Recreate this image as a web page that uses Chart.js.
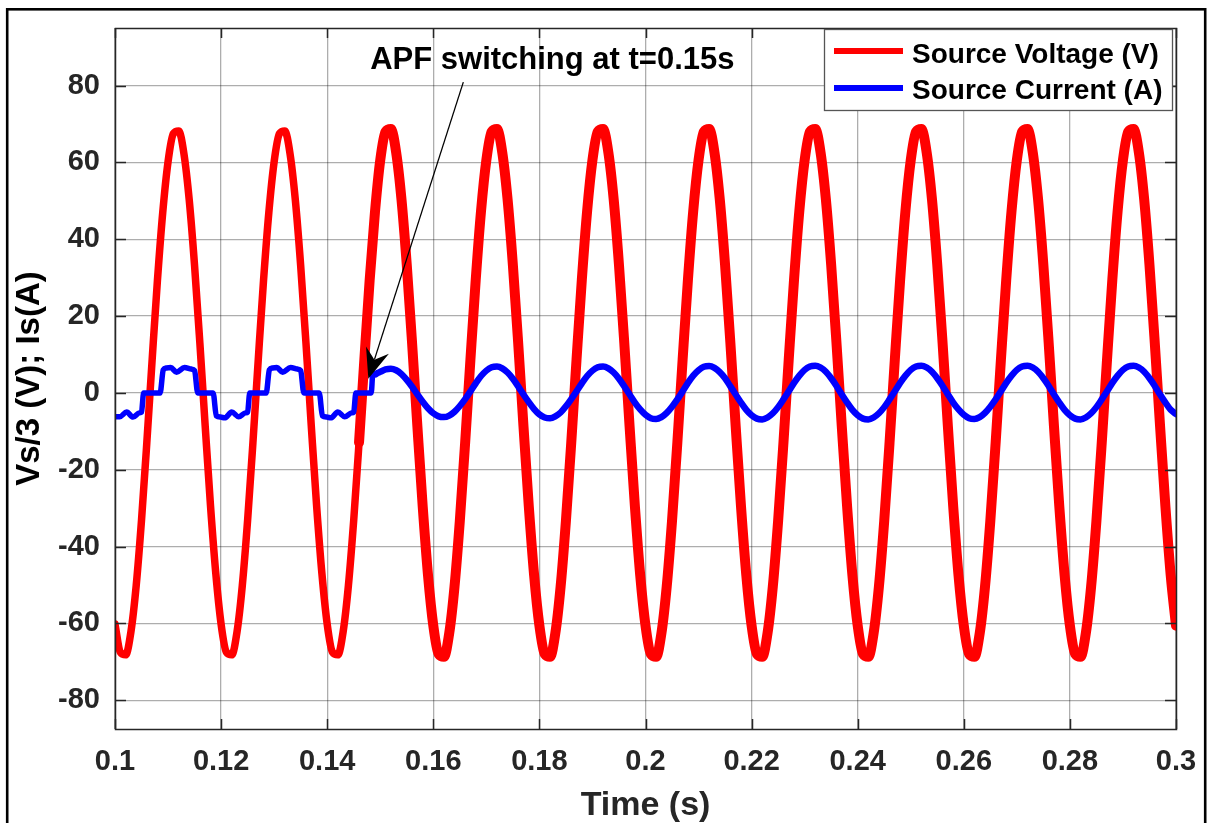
<!DOCTYPE html>
<html>
<head>
<meta charset="utf-8">
<script src="https://cdn.jsdelivr.net/npm/chart.js@4.4.1/dist/chart.umd.min.js"></script>
<style>
  html, body { margin: 0; padding: 0; background: #ffffff; }
  canvas { display: block; }
</style>
</head>
<body>
<canvas id="c" width="1207" height="823"></canvas>
<script>
// ---------------- DATA ----------------
const sampleTime = [
  0.100,0.101,0.102,0.103,0.104,0.105,0.106,0.107,0.108,0.109,
  0.110,0.111,0.112,0.113,0.114,0.115,0.116,0.117,0.118,0.119,
  0.120,0.121,0.122,0.123,0.124,0.125,0.126,0.127,0.128,0.129,
  0.130,0.131,0.132,0.133,0.134,0.135,0.136,0.137,0.138,0.139,
  0.140,0.141,0.142,0.143,0.144,0.145,0.146,0.147,0.148,0.149,
  0.150,0.151,0.152,0.153,0.154,0.155,0.156,0.157,0.158,0.159,
  0.160,0.161,0.162,0.163,0.164,0.165,0.166,0.167,0.168,0.169,
  0.170,0.171,0.172,0.173,0.174,0.175,0.176,0.177,0.178,0.179,
  0.180,0.181,0.182,0.183,0.184,0.185,0.186,0.187,0.188,0.189,
  0.190,0.191,0.192,0.193,0.194,0.195,0.196,0.197,0.198,0.199,
  0.200,0.201,0.202,0.203,0.204,0.205,0.206,0.207,0.208,0.209,
  0.210,0.211,0.212,0.213,0.214,0.215,0.216,0.217,0.218,0.219,
  0.220,0.221,0.222,0.223,0.224,0.225,0.226,0.227,0.228,0.229,
  0.230,0.231,0.232,0.233,0.234,0.235,0.236,0.237,0.238,0.239,
  0.240,0.241,0.242,0.243,0.244,0.245,0.246,0.247,0.248,0.249,
  0.250,0.251,0.252,0.253,0.254,0.255,0.256,0.257,0.258,0.259,
  0.260,0.261,0.262,0.263,0.264,0.265,0.266,0.267,0.268,0.269,
  0.270,0.271,0.272,0.273,0.274,0.275,0.276,0.277,0.278,0.279,
  0.280,0.281,0.282,0.283,0.284,0.285,0.286,0.287,0.288,0.289,
  0.290,0.291,0.292,0.293,0.294,0.295,0.296,0.297,0.298,0.299,
  0.300
];

// Source voltage Vs/3 (V), one value per sampleTime
const sourceVoltage = [
  -60.2,-67.5,-68.2,-62.2,-50.1,-33.1,-12.9,8.6,29.3,47.0,
  60.2,67.5,68.2,62.2,50.1,33.1,12.9,-8.6,-29.3,-47.0,
  -60.2,-67.5,-68.2,-62.2,-50.1,-33.1,-12.9,8.6,29.3,47.0,
  60.2,67.5,68.2,62.2,50.1,33.1,12.9,-8.6,-29.3,-47.0,
  -60.2,-67.5,-68.2,-62.2,-50.1,-33.1,-12.9,8.6,29.3,47.0,
  60.6,68.0,68.7,62.6,50.4,33.3,13.0,-8.7,-29.5,-47.4,
  -60.6,-68.0,-68.7,-62.6,-50.4,-33.3,-13.0,8.7,29.5,47.4,
  60.6,68.0,68.7,62.6,50.4,33.3,13.0,-8.7,-29.5,-47.4,
  -60.6,-68.0,-68.7,-62.6,-50.4,-33.3,-13.0,8.7,29.5,47.4,
  60.6,68.0,68.7,62.6,50.4,33.3,13.0,-8.7,-29.5,-47.4,
  -60.6,-68.0,-68.7,-62.6,-50.4,-33.3,-13.0,8.7,29.5,47.4,
  60.6,68.0,68.7,62.6,50.4,33.3,13.0,-8.7,-29.5,-47.4,
  -60.6,-68.0,-68.7,-62.6,-50.4,-33.3,-13.0,8.7,29.5,47.4,
  60.6,68.0,68.7,62.6,50.4,33.3,13.0,-8.7,-29.5,-47.4,
  -60.6,-68.0,-68.7,-62.6,-50.4,-33.3,-13.0,8.7,29.5,47.4,
  60.6,68.0,68.7,62.6,50.4,33.3,13.0,-8.7,-29.5,-47.4,
  -60.6,-68.0,-68.7,-62.6,-50.4,-33.3,-13.0,8.7,29.5,47.4,
  60.6,68.0,68.7,62.6,50.4,33.3,13.0,-8.7,-29.5,-47.4,
  -60.6,-68.0,-68.7,-62.6,-50.4,-33.3,-13.0,8.7,29.5,47.4,
  60.6,68.0,68.7,62.6,50.4,33.3,13.0,-8.7,-29.5,-47.4,
  -60.6
];

// Source current before APF switching: stepped waveform (irregular times)
const currentStepTime = [
  0.1000,0.1009,0.1022,0.1034,0.1046,0.1050,0.1054,0.1085,0.1091,0.1097,
  0.1105,0.1116,0.1131,0.1144,0.1150,0.1156,0.1185,0.1191,0.1199,0.1207,
  0.1220,0.1233,0.1246,0.1250,0.1254,0.1285,0.1291,0.1297,0.1305,0.1316,
  0.1331,0.1344,0.1350,0.1356,0.1385,0.1391,0.1399,0.1407,0.1420,0.1433,
  0.1446,0.1450,0.1454,0.1483,0.1486,0.1490,0.1495
];
const currentStepValue = [
  -6.2,-6.2,-5.0,-6.3,-5.2,-5.0,0.0,0.0,6.0,6.5,
  6.6,5.4,6.6,6.2,5.8,0.0,0.0,-6.0,-6.3,-6.5,
  -5.0,-6.2,-5.2,-5.0,0.0,0.0,6.0,6.5,6.6,5.4,
  6.6,6.2,5.8,0.0,0.0,-6.0,-6.3,-6.5,-5.0,-6.2,
  -5.2,-5.0,0.0,0.0,5.0,4.8,5.2
];
// Source current after APF switching, one value per sampleTime from 0.150 s
const currentSineValue = [
  5.5,6.1,6.3,5.9,4.9,3.4,1.6,-0.4,-2.3,-4.0,
  -5.3,-6.1,-6.3,-5.9,-4.9,-3.4,-1.6,0.4,2.5,4.4,
  5.8,6.7,6.9,6.4,5.3,3.7,1.7,-0.4,-2.4,-4.2,
  -5.6,-6.4,-6.6,-6.1,-5.1,-3.5,-1.6,0.4,2.5,4.4,
  5.8,6.7,6.9,6.4,5.3,3.7,1.7,-0.4,-2.5,-4.3,
  -5.7,-6.6,-6.8,-6.3,-5.2,-3.6,-1.7,0.4,2.6,4.5,
  5.9,6.8,7.0,6.5,5.4,3.8,1.7,-0.4,-2.5,-4.4,
  -5.8,-6.7,-6.9,-6.4,-5.3,-3.7,-1.7,0.4,2.6,4.5,
  6.0,6.9,7.1,6.6,5.5,3.8,1.8,-0.4,-2.5,-4.4,
  -5.8,-6.7,-6.9,-6.4,-5.3,-3.7,-1.7,0.4,2.6,4.5,
  6.0,6.9,7.1,6.6,5.5,3.8,1.8,-0.4,-2.5,-4.3,
  -5.7,-6.6,-6.8,-6.3,-5.2,-3.6,-1.7,0.4,2.6,4.5,
  6.0,6.9,7.1,6.6,5.5,3.8,1.8,-0.4,-2.5,-4.4,
  -5.8,-6.7,-6.9,-6.4,-5.3,-3.7,-1.7,0.4,2.6,4.5,
  6.0,6.9,7.1,6.6,5.5,3.8,1.8,-0.4,-2.5,-4.4,
  -5.5
];

const seriesLabels = ['Source Voltage (V)', 'Source Current (A)'];
const xTickValues = [0.1,0.12,0.14,0.16,0.18,0.2,0.22,0.24,0.26,0.28,0.3];
const xTickLabels = ['0.1','0.12','0.14','0.16','0.18','0.2','0.22','0.24','0.26','0.28','0.3'];
const yTickValues = [-80,-60,-40,-20,0,20,40,60,80];
const yTickLabels = ['-80','-60','-40','-20','0','20','40','60','80'];

const annotationText = 'APF switching at t=0.15s';
const switchTime = 0.1455;
// annotation anchor in data units (text start, arrow tail, arrow tip)
const annotationAt = { textX: 0.1481, textY: 84.3, tailX: 0.16566, tailY: 80.9, tipX: 0.14775, tipY: 3.7 };

// ---------------- BUILD ----------------
const voltagePoints = sampleTime.map((t, i) => ({ x: t, y: sourceVoltage[i] }));
const currentPoints = currentStepTime.map((t, i) => ({ x: t, y: currentStepValue[i] }))
  .concat(sampleTime.slice(50).map((t, i) => ({ x: t, y: currentSineValue[i] })));

const FONT = '"Liberation Sans", Arial, Helvetica, sans-serif';
const AX = '#262626';

const framePlugin = {
  id: 'frame',
  beforeDraw(chart) {
    const c = chart.ctx;
    c.save();
    c.fillStyle = '#ffffff';
    c.fillRect(0, 0, chart.width, chart.height);
    c.restore();
  },
  afterDraw(chart) {
    const c = chart.ctx;
    const a = chart.chartArea;
    const xs = chart.scales.x, ys = chart.scales.y;
    c.save();
    // inner ticks on all four sides
    c.strokeStyle = AX;
    c.lineWidth = 1.5;
    c.beginPath();
    xTickValues.forEach(v => {
      const px = Math.round(xs.getPixelForValue(v)) + 0.5;
      c.moveTo(px, a.bottom); c.lineTo(px, a.bottom - 10);
      c.moveTo(px, a.top); c.lineTo(px, a.top + 10);
    });
    yTickValues.forEach(v => {
      const py = Math.round(ys.getPixelForValue(v)) + 0.5;
      c.moveTo(a.left, py); c.lineTo(a.left + 11, py);
      c.moveTo(a.right, py); c.lineTo(a.right - 11, py);
    });
    c.stroke();
    // axes box
    c.strokeRect(Math.round(a.left) + 0.5, Math.round(a.top) + 0.5,
                 Math.round(a.right - a.left), Math.round(a.bottom - a.top));

    // annotation arrow
    const tx = xs.getPixelForValue(annotationAt.tipX), ty = ys.getPixelForValue(annotationAt.tipY);
    const sx = xs.getPixelForValue(annotationAt.tailX), sy = ys.getPixelForValue(annotationAt.tailY);
    const dx = tx - sx, dy = ty - sy, L = Math.hypot(dx, dy);
    const ux = dx / L, uy = dy / L, nx = -uy, ny = ux;
    const HL = 30, HW = 12, BK = 20;
    c.strokeStyle = '#000000';
    c.lineWidth = 1.3;
    c.beginPath();
    c.moveTo(sx, sy);
    c.lineTo(tx - ux * BK, ty - uy * BK);
    c.stroke();
    c.fillStyle = '#000000';
    c.beginPath();
    c.moveTo(tx, ty);
    c.lineTo(tx - ux * HL + nx * HW, ty - uy * HL + ny * HW);
    c.lineTo(tx - ux * BK, ty - uy * BK);
    c.lineTo(tx - ux * HL - nx * HW, ty - uy * HL - ny * HW);
    c.closePath();
    c.fill();
    // annotation text
    c.font = 'bold 31px ' + FONT;
    c.textBaseline = 'alphabetic';
    c.textAlign = 'left';
    c.fillText(annotationText, xs.getPixelForValue(annotationAt.textX), ys.getPixelForValue(annotationAt.textY));

    // legend box (top-right, inside axes)
    const lx = 824, ly = 29, lw = 348, lh = 81;
    c.fillStyle = '#ffffff';
    c.fillRect(lx, ly, lw, lh);
    c.strokeStyle = '#555555';
    c.lineWidth = 1.3;
    c.strokeRect(lx + 0.5, ly + 0.5, lw, lh);
    const ds = chart.data.datasets;
    const rows = [{ y: 51, base: 63 }, { y: 88, base: 99 }];
    rows.forEach((r, i) => {
      c.strokeStyle = ds[i].borderColor;
      c.lineWidth = 6;
      c.beginPath();
      c.moveTo(834, r.y); c.lineTo(903, r.y);
      c.stroke();
      c.fillStyle = '#000000';
      c.font = 'bold 28px ' + FONT;
      c.fillText(seriesLabels[i], 912, r.base);
    });

    // figure border
    c.strokeStyle = '#000000';
    c.lineWidth = 2.6;
    c.strokeRect(7.2, 9.3, 1198, 900);
    c.restore();
  }
};

new Chart(document.getElementById('c'), {
  type: 'line',
  data: {
    datasets: [
      {
        label: seriesLabels[0],
        data: voltagePoints,
        borderColor: '#ff0000',
        borderWidth: 7.5,
        borderCapStyle: 'round',
        borderJoinStyle: 'round',
        pointRadius: 0,
        cubicInterpolationMode: 'monotone',
        segment: { borderWidth: s => (s.p0.parsed.x >= switchTime ? 10 : 7.5) },
        order: 2
      },
      {
        label: seriesLabels[1],
        data: currentPoints,
        borderColor: '#0000ff',
        borderWidth: 5.5,
        borderCapStyle: 'round',
        borderJoinStyle: 'round',
        pointRadius: 0,
        cubicInterpolationMode: 'monotone',
        segment: { borderWidth: s => (s.p0.parsed.x >= 0.1485 ? 6.5 : 5.5) },
        order: 1
      }
    ]
  },
  options: {
    responsive: false,
    animation: false,
    layout: { padding: { top: 28, right: 31, left: 0, bottom: 0 } },
    plugins: { legend: { display: false }, tooltip: { enabled: false } },
    scales: {
      x: {
        type: 'linear',
        min: 0.1, max: 0.3,
        afterBuildTicks(s) { s.ticks = xTickValues.map(v => ({ value: v })); },
        afterFit(s) { s.height = 94; s.paddingLeft = 0; s.paddingRight = 0; },
        ticks: {
          color: AX,
          font: { family: FONT, size: 29, weight: 'bold' },
          padding: 16,
          maxRotation: 0,
          autoSkip: false,
          callback: (v, i) => xTickLabels[i]
        },
        grid: { color: 'rgba(0,0,0,0.32)', lineWidth: 1.3, drawTicks: false },
        border: { display: false },
        title: {
          display: true, text: 'Time (s)', color: AX,
          font: { family: FONT, size: 34, weight: 'bold' },
          padding: { top: 0, bottom: -3 }
        }
      },
      y: {
        type: 'linear',
        min: -87.5, max: 95,
        afterBuildTicks(s) { s.ticks = yTickValues.map(v => ({ value: v })); },
        afterFit(s) { s.width = 115; s.paddingTop = 0; s.paddingBottom = 0; },
        ticks: {
          color: AX,
          font: { family: FONT, size: 29, weight: 'bold' },
          padding: 15,
          autoSkip: false,
          callback: (v, i) => yTickLabels[i]
        },
        grid: { color: 'rgba(0,0,0,0.32)', lineWidth: 1.3, drawTicks: false },
        border: { display: false },
        title: {
          display: true, text: 'Vs/3 (V); Is(A)', color: '#000000',
          font: { family: FONT, size: 33, weight: 'bold' },
          padding: { top: 10, bottom: 0 }
        }
      }
    }
  },
  plugins: [framePlugin]
});
</script>
</body>
</html>
